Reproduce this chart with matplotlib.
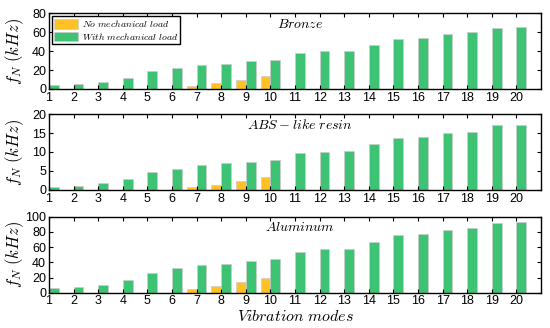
import numpy as np
import matplotlib.pyplot as plt
from matplotlib.ticker import MultipleLocator

plt.rcParams['font.family'] = ['Liberation Sans', 'DejaVu Sans']
plt.rcParams['mathtext.fontset'] = 'cm'

modes = np.arange(1, 21)

bronze_with = [3.9, 5.0, 7.0, 11.6, 18.6, 22.5, 25.3, 26.7, 29.2, 30.5,
               37.5, 39.7, 39.7, 46.7, 53.0, 54.0, 58.3, 59.7, 64.2, 65.6]
bronze_no = [0, 0, 0, 0, 0, 0, 3.5, 6.0, 9.2, 13.4,
             0, 0, 0, 0, 0, 0, 0, 0, 0, 0]

abs_with = [0.8, 1.1, 1.7, 2.8, 4.6, 5.6, 6.5, 7.0, 7.4, 7.9,
            9.7, 10.1, 10.2, 12.1, 13.7, 13.9, 15.1, 15.2, 17.0, 17.0]
abs_no = [0, 0, 0, 0, 0, 0, 0.8, 1.3, 2.3, 3.3,
          0, 0, 0, 0, 0, 0, 0, 0, 0, 0]

alu_with = [5.7, 7.0, 10.0, 16.5, 26.5, 32.0, 36.0, 38.3, 41.3, 44.0,
            53.0, 57.0, 57.4, 66.5, 76.0, 77.4, 83.0, 85.2, 91.3, 93.5]
alu_no = [0, 0, 0, 0, 0, 0, 4.8, 8.7, 14.0, 19.0,
          0, 0, 0, 0, 0, 0, 0, 0, 0, 0]

panels = [
    ('$Bronze$', bronze_no, bronze_with, 80, 20),
    ('$ABS-like\\ resin$', abs_no, abs_with, 20, 5),
    ('$Aluminum$', alu_no, alu_with, 100, 20),
]

orange = '#FFC125'
green = '#3DC373'
w = 0.4

fig = plt.figure(figsize=(5.5, 3.28), dpi=100)
boxes = [(0.089, 0.7287, 0.8946, 0.2313),
         (0.089, 0.421, 0.8946, 0.2313),
         (0.089, 0.1077, 0.8946, 0.2313)]

for i, (name, no, wi, ymax, step) in enumerate(panels):
    ax = fig.add_axes(boxes[i])
    b1 = ax.bar(modes - w / 2, no, w, color=orange, edgecolor='#cccccc', linewidth=0.5)
    b2 = ax.bar(modes + w / 2, wi, w, color=green, edgecolor='#cccccc', linewidth=0.5)
    ax.set_xlim(1, 21)
    ax.set_ylim(0, ymax)
    ax.set_xticks(modes)
    ax.yaxis.set_major_locator(MultipleLocator(step))
    ax.tick_params(direction='in', top=True, right=True, length=3, width=0.8,
                   labelsize=9, pad=2)
    for s in ax.spines.values():
        s.set_linewidth(1.0)
    ax.set_ylabel('$f_N\\ (kHz)$', fontsize=12)
    ax.yaxis.set_label_coords(-0.046, 0.5)
    ax.text(0.51, 0.86, name, transform=ax.transAxes, ha='center', va='center',
            fontsize=10)
    if i == 0:
        ax.legend([b1, b2], ['$No\\ mechanical\\ load$', '$With\\ mechanical\\ load$'],
                  loc='upper left', fontsize=7, fancybox=False, framealpha=1,
                  edgecolor='black', borderpad=0.25, handlelength=2.4,
                  handleheight=1.1, handletextpad=0.4, labelspacing=0.15,
                  borderaxespad=0.3)
    if i == 2:
        ax.set_xlabel('$Vibration\\ modes$', fontsize=11.5, labelpad=1)

fig.savefig('out.png', dpi=100)
